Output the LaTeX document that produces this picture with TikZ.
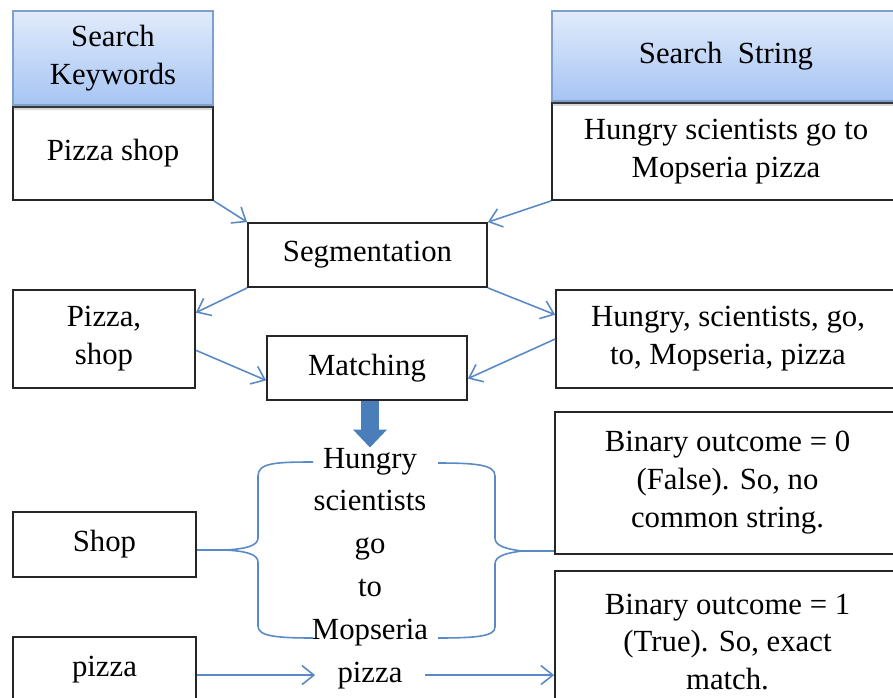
\documentclass[tikz,border=0pt]{standalone}
\usepackage{fontspec}
\setmainfont{Liberation Serif}
\usepackage{tikz}
\usetikzlibrary{arrows.meta, positioning, shadows}
\definecolor{hdtop}{HTML}{E1EBFB}
\definecolor{hdbot}{HTML}{A6C4F3}
\definecolor{hdline}{HTML}{7EA0CF}
\definecolor{linkblue}{HTML}{5A8AC6}
\definecolor{bigblue}{HTML}{4A7EBB}
\newcommand{\boxfont}{\fontsize{17.5}{21.6}\selectfont}
\tikzset{
  box/.style={rectangle, draw=black!85, line width=1pt, fill=white, align=center, font=\boxfont, inner sep=0pt},
  head/.style={box, draw=hdline, top color=hdtop, bottom color=hdbot, drop shadow={shadow xshift=0pt, shadow yshift=-2.5pt, opacity=.25, fill=black!60}},
  word/.style={font=\boxfont, inner xsep=0.44cm, inner ysep=0pt},
  arr/.style={-{Straight Barb[length=2.4mm, width=3.8mm]}, line width=0.9pt, linkblue},
  brace/.style={line width=0.9pt, linkblue},
  bigarr/.style={-{Triangle[length=0.36cm, width=0.66cm]}, line width=0.36cm, bigblue},
}

\begin{document}
\begin{tikzpicture}[x=0.02cm, y=-0.02cm]
\useasboundingbox (0,0) rectangle (893,697);
\clip (0,0) rectangle (893,697);

\node[box, minimum width=4cm, minimum height=1.86cm] (kwbody) at (113,153.5) {Pizza shop};
\node[head, above=0pt of kwbody, minimum width=4cm, minimum height=1.88cm] (kwhead) {Search\\Keywords};
\node[box, minimum width=6.96cm, minimum height=1.94cm] (strbody) at (726,151.5) {Hungry scientists go to\\Mopseria pizza};
\node[head, above=0pt of strbody, minimum width=6.96cm, minimum height=1.8cm] (strhead) {Search\enspace String};

\node[box, minimum width=4.78cm, minimum height=1.28cm] (seg) at (367.5,255) {Segmentation};
\node[box, minimum width=3.64cm, minimum height=1.96cm] (kwsplit) at (104,339) {Pizza,\\shop};
\node[box, minimum width=6.88cm, minimum height=1.96cm] (strsplit) at (728,339) {Hungry, scientists, go,\\to, Mopseria, pizza};
\node[box, minimum width=4cm, minimum height=1.28cm] (match) at (367,368) {Matching};

\draw[arr] (kwbody.south east) -- (seg.north west);
\draw[arr] (strbody.south west) -- (seg.north east);
\draw[arr] (seg.south west) -- (kwsplit.16);
\draw[arr] (seg.south east) -- (strsplit.172);
\draw[arr] (kwsplit.-7) -- (match.187);
\draw[arr] (strsplit.west) -- (match.-6);

\foreach \w [count=\i] in {Hungry,scientists,go,to,Mopseria,pizza}
  \node[word, anchor=base] (w\i) at (370,{468+42.8*(\i-1)}) {\w};
\draw[bigarr] (match.south -| w1.north) -- (w1.north);

\node[box, minimum width=3.66cm, minimum height=1.3cm] (shop) at (104.5,544.5) {Shop};
\node[box, minimum width=3.66cm, minimum height=1.3cm] (pzbox) at (104.5,669.5) {pizza};
\node[box, minimum width=6.9cm, minimum height=2.84cm] (bin0) at (727.5,483) {Binary outcome = 0\\(False). So, no\\common string.};
\node[box, minimum width=6.9cm, minimum height=2.84cm] (bin1) at (727.5,642) {Binary outcome = 1\\(True). So, exact\\match.};

\coordinate (lbtip) at (225,550);
\coordinate (rbtip) at (522,551);
\draw[brace] (313,462) .. controls (275,462) and (258,463) .. (258,476) -- (258,538)
  .. controls (258,546) and (245,549) .. (lbtip) .. controls (245,551) and (258,554) .. (258,562)
  -- (258,626) .. controls (258,636) and (275,638) .. (313,638);
\draw[brace] (438,463) .. controls (478,463) and (495,465) .. (495,476) -- (495,538)
  .. controls (495,546) and (506,549) .. (rbtip) .. controls (506,553) and (495,556) .. (495,564)
  -- (495,627) .. controls (495,636) and (478,638) .. (438,638);
\draw[brace] (shop.east |- lbtip) -- (lbtip);
\draw[brace] (rbtip) -- (rbtip -| bin0.west);

\draw[arr] (pzbox.east |- w6.west) -- (w6.west);
\draw[arr] (w6.east) -- (w6.east -| bin1.west);
\end{tikzpicture}
\end{document}
